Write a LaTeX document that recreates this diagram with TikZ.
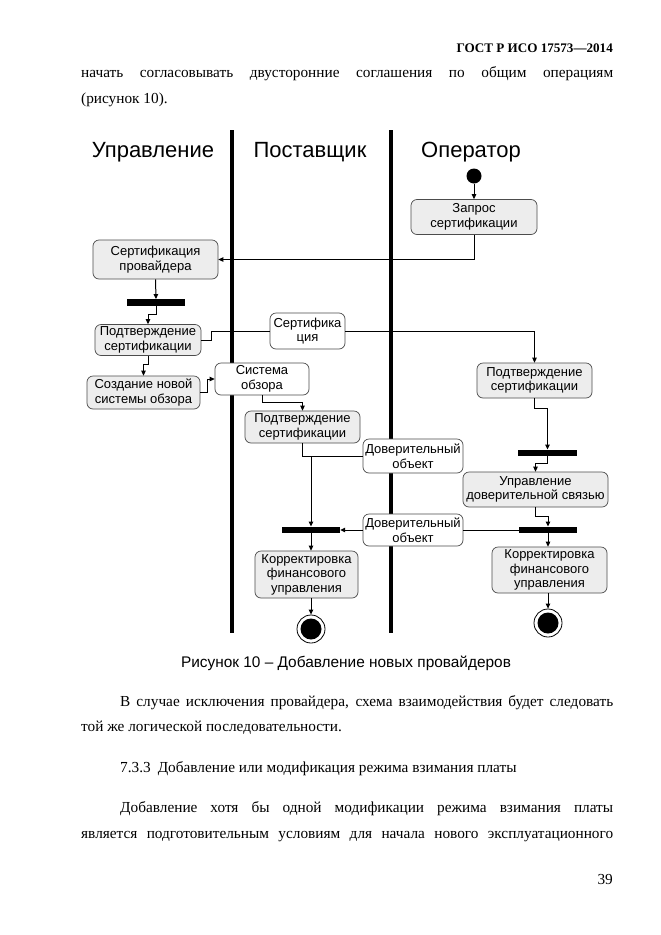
\documentclass[tikz,border=0pt]{standalone}
\usepackage{fontspec}
\setmainfont{Liberation Serif}
\newfontfamily\arialfont{Liberation Sans}
\usetikzlibrary{arrows.meta}

\begin{document}
\begin{tikzpicture}[x=1pt,y=-1pt,
  action/.style={draw=black!70,fill=black!7,rounded corners=6pt,line width=0.7pt,
    font=\arialfont\fontsize{13}{14.5}\selectfont,align=center,inner sep=1pt},
  object/.style={action,fill=white},
  syncbar/.style={fill=black,inner sep=0pt,minimum height=6.5pt},
  initstate/.style={circle,fill=black,inner sep=0pt,minimum size=15pt},
  endstate/.style={circle,draw=black,fill=white,line width=0.8pt,inner sep=0pt,minimum size=28pt,
    path picture={\fill[black] (path picture bounding box.center) circle (10.5pt);}},
  flow/.style={line width=1pt,-{Triangle[length=5pt,width=4.5pt]}},
  link/.style={line width=1pt},
  lane/.style={line width=4.5pt},
  lanetitle/.style={font=\arialfont\fontsize{22}{26}\selectfont,anchor=base,inner sep=0pt},
  body/.style={font=\fontsize{15.3}{18}\selectfont,anchor=base west,inner sep=0pt}]
  \path[fill=white] (0,0) rectangle (661,935);
  \useasboundingbox (0,0) rectangle (661,935);

  % page text
  \node[font=\bfseries\fontsize{13.1}{15}\selectfont,anchor=base east,inner sep=0pt] (hdr) at (613,52) {ГОСТ Р ИСО 17573—2014};
  \node[body] (p1a) at (81,77) {\makebox[532pt][s]{начать согласовывать двусторонние соглашения по общим операциям}};
  \node[body] (p1b) at (81,103) {(рисунок 10).};

  % swimlanes
  \draw[lane] (232,130) -- (232,633);
  \draw[lane] (391,130) -- (391,633);
  \node[lanetitle] (tmgmt) at (153,157) {Управление};
  \node[lanetitle] (tsupp) at (310,157) {Поставщик};
  \node[lanetitle] (toper) at (471,157) {Оператор};

  % activities
  \node[initstate] (start) at (474,176) {};
  \node[action,minimum width=126pt,minimum height=35pt] (zapros) at (474,217) {Запрос\\сертификации};
  \node[action,minimum width=125pt,minimum height=39pt] (sertprov) at (155.5,259.5) {Сертификация\\провайдера};
  \node[syncbar,minimum width=58pt] (bar1) at (156,302.5) {};
  \node[action,minimum width=106pt,minimum height=31pt] (podtL) at (148,340) {Подтверждение\\сертификации};
  \node[object,minimum width=75pt,minimum height=36pt] (sertobj) at (307.5,331) {Сертифика\\ция};
  \node[action,minimum width=113pt,minimum height=33pt] (sozd) at (143.5,392.5) {Создание новой\\системы обзора};
  \node[object,minimum width=94pt,minimum height=32pt] (sysobj) at (262,379) {Система\\обзора};
  \node[action,minimum width=115pt,minimum height=32pt] (podtM) at (302.5,427) {Подтверждение\\сертификации};
  \node[action,minimum width=115pt,minimum height=35pt] (podtR) at (534.5,380.5) {Подтверждение\\сертификации};
  \node[syncbar,minimum width=59pt] (barR1) at (547.5,453) {};
  \node[action,minimum width=145pt,minimum height=35pt] (upr) at (535.5,489.5) {Управление\\доверительной связью};
  \node[object,minimum width=100pt,minimum height=34pt] (dov1) at (413,456) {Доверительный\\объект};
  \node[object,minimum width=100pt,minimum height=32pt] (dov2) at (413,530) {Доверительный\\объект};
  \node[syncbar,minimum width=58pt] (barL2) at (311,530) {};
  \node[syncbar,minimum width=58pt] (barR2) at (548,530) {};
  \node[action,minimum width=103pt,minimum height=47pt] (korM) at (306.5,574.5) {Корректировка\\финансового\\управления};
  \node[action,minimum width=115pt,minimum height=46pt] (korR) at (549.5,570) {Корректировка\\финансового\\управления};
  \node[endstate] (endM) at (311,629) {};
  \node[endstate] (endR) at (548,623) {};

  % flows
  \draw[flow] (start) -- (zapros);
  \draw[flow] (zapros.south) |- (sertprov.east);
  \draw[flow] (sertprov.south) -- (bar1.north);
  \draw[flow] (bar1.south) -- ++(0,9) -| (podtL.north);
  \draw[link] (podtL.east) -- ++(10,0) |- (sertobj.west);
  \draw[flow] (sertobj.east) -| (podtR.north);
  \draw[flow] (podtL.south) -- ++(0,9) -| (sozd.north);
  \draw[flow] (sozd.east) -- ++(7,0) |- (sysobj.west);
  \draw[flow] (sysobj.south) -- ++(0,7) -| (podtM.north);
  \draw[link] (podtM.south) |- (dov1.west);
  \draw[flow] (barL2.north |- dov1.west) -- (barL2.north);
  \draw[flow] (podtR.south) -- ++(0,10) -| (barR1.north);
  \draw[flow] (barR1.south) -- ++(0,7) -| (upr.north);
  \draw[flow] (upr.south) -- ++(0,9) -| (barR2.north);
  \draw[link] (dov2.east) -- (barR2.west);
  \draw[flow] (dov2.west) -- (barL2.east);
  \draw[flow] (barL2.south) -- (barL2.south |- korM.north);
  \draw[flow] (barR2.south) -- (barR2.south |- korR.north);
  \draw[flow] (endM.north |- korM.south) -- (endM.north);
  \draw[flow] (endR.north |- korR.south) -- (endR.north);

  % caption and text below
  \node[font=\arialfont\fontsize{15.4}{18}\selectfont,anchor=base,inner sep=0pt] (cap) at (346,667) {Рисунок 10 – Добавление новых провайдеров};
  \node[body] (p2a) at (120,706) {\makebox[493pt][s]{В случае исключения провайдера, схема взаимодействия будет следовать}};
  \node[body] (p2b) at (81,731) {той же логической последовательности.};
  \node[body] (sec) at (120,772) {7.3.3\hspace{7pt}Добавление или модификация режима взимания платы};
  \node[body] (p3a) at (120,812) {\makebox[493pt][s]{Добавление хотя бы одной модификации режима взимания платы}};
  \node[body] (p3b) at (81,838) {\makebox[532pt][s]{является подготовительным условиям для начала нового эксплуатационного}};
  \node[body,anchor=base east] (pg) at (613,884) {39};
\end{tikzpicture}
\end{document}
